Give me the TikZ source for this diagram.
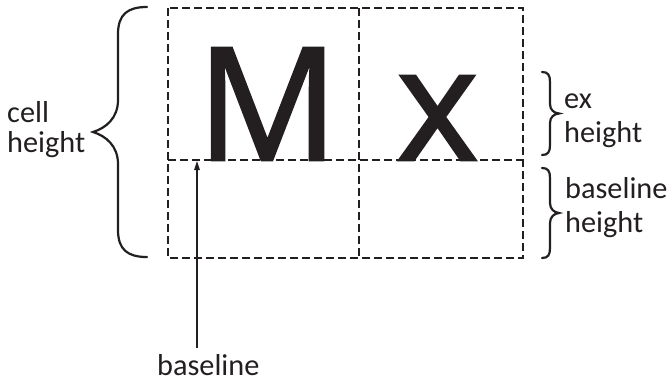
\documentclass[tikz,border=0pt]{standalone}
\usepackage{fontspec}
\setmainfont{Carlito}
\newfontfamily\bigglyph{Open Sans}[FakeBold=1.6]
\usetikzlibrary{arrows.meta}
\definecolor{ink}{HTML}{231F20}
\begin{document}
\begin{tikzpicture}[x=1pt,y=-1pt,
  grid/.style={draw=ink, line width=1.2pt, dash pattern=on 8pt off 4pt},
  lab/.style={inner sep=0pt, anchor=base west, font=\fontsize{30.3}{34}\selectfont, text=ink},
  big/.style={inner sep=0pt, anchor=base, font=\bigglyph\fontsize{157}{157}\selectfont, text=ink},
  bracepath/.style={draw=ink, line width=2.2pt, line cap=round},
  pointer/.style={draw=ink, line width=1.2pt, -{Triangle[length=9pt,width=5.5pt]}}]
\useasboundingbox (0,0) rectangle (669,383);
% grid
\coordinate (tl) at (168,8);
\coordinate (tm) at (359,8);
\coordinate (br) at (523,258);
\coordinate (bm) at (359,258);
\coordinate (ml) at (168,160);
\coordinate (mr) at (523,160);
\draw[grid] (tl) rectangle (br);
\draw[grid] (tm) -- (bm);
\draw[grid] (ml) -- (mr);
% glyphs
\node[big] (M) at (267.5,160) {M};
\node[big] (X) at (437.5,160) {x};
% left brace
\draw[bracepath] (147,7) .. controls (128,7) and (118,14) .. (118,34) -- (118,100)
  .. controls (118,118) and (106,128) .. (93,132)
  .. controls (106,136) and (118,146) .. (118,164) -- (118,230)
  .. controls (118,250) and (128,257) .. (147,257);
% ex brace
\draw[bracepath] (542,72) .. controls (548,72) and (550,75) .. (550,82) -- (550,104)
  .. controls (550,110) and (554,113) .. (559,113.5)
  .. controls (554,114) and (550,117) .. (550,123) -- (550,145)
  .. controls (550,152) and (548,155) .. (542,155);
% baseline brace
\draw[bracepath] (542,168) .. controls (548,168) and (550,171) .. (550,178) -- (550,203)
  .. controls (550,209) and (554,212.5) .. (559,213)
  .. controls (554,213.5) and (550,217) .. (550,223) -- (550,248)
  .. controls (550,255) and (548,258) .. (542,258);
% labels
\node[lab] (cellA) at (7,122) {cell};
\node[lab] (cellB) at (7,152) {height};
\node[lab] (exA) at (564,108) {ex};
\node[lab] (exB) at (564,142) {height};
\node[lab] (bhA) at (565,198) {baseline};
\node[lab] (bhB) at (565,232) {height};
\node[lab] (bl) at (157,375) {baseline};
% arrow
\coordinate (afoot) at (197,348);
\coordinate (atip) at (197,161);
\draw[pointer] (afoot) -- (atip);
\end{tikzpicture}
\end{document}
